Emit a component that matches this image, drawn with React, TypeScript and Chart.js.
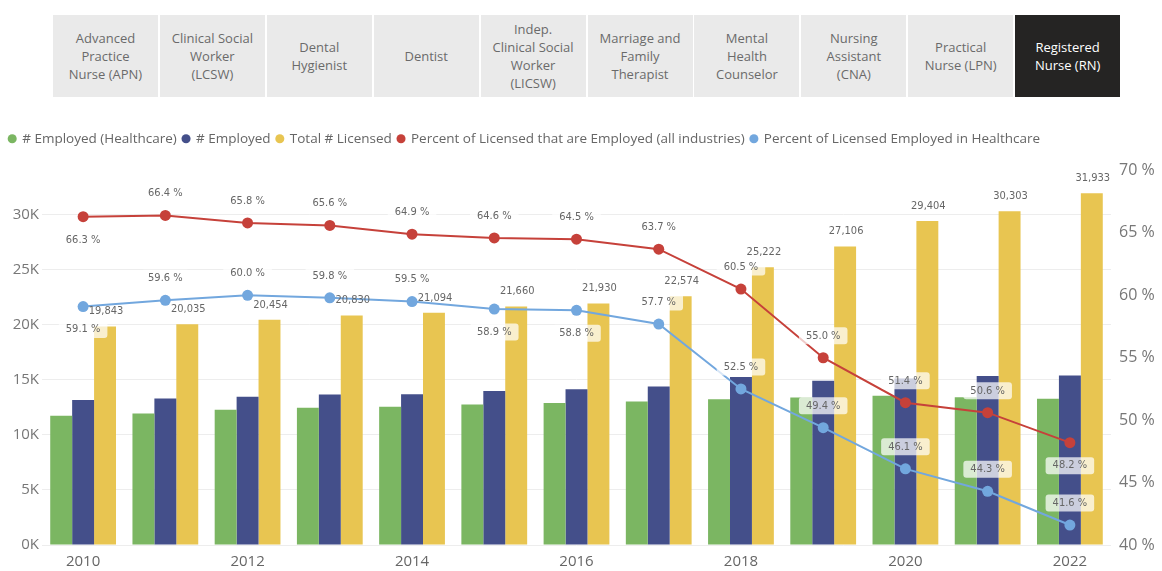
import { useEffect, useRef } from 'react';
import { Chart, registerables } from 'chart.js';

Chart.register(...registerables);

// ---------- data ----------
const years = ['2010', '2011', '2012', '2013', '2014', '2015', '2016', '2017', '2018', '2019', '2020', '2021', '2022'];
const employedHealthcare = [11727, 11941, 12272, 12456, 12551, 12758, 12895, 13025, 13242, 13390, 13555, 13424, 13284];
const employedAll = [13156, 13303, 13459, 13664, 13690, 13992, 14145, 14380, 15259, 14908, 15114, 15333, 15392];
const totalLicensed = [19843, 20035, 20454, 20830, 21094, 21660, 21930, 22574, 25222, 27106, 29404, 30303, 31933];
const pctLicensedEmployedAll = [66.3, 66.4, 65.8, 65.6, 64.9, 64.6, 64.5, 63.7, 60.5, 55.0, 51.4, 50.6, 48.2];
const pctLicensedEmployedHealthcare = [59.1, 59.6, 60.0, 59.8, 59.5, 58.9, 58.8, 57.7, 52.5, 49.4, 46.1, 44.3, 41.6];
const countTicks = [0, 5000, 10000, 15000, 20000, 25000, 30000];
const percentTicks = [40, 45, 50, 55, 60, 65, 70];
const professions = [
  'Advanced\nPractice\nNurse (APN)',
  'Clinical Social\nWorker\n(LCSW)',
  'Dental\nHygienist',
  'Dentist',
  'Indep.\nClinical Social\nWorker\n(LICSW)',
  'Marriage and\nFamily\nTherapist',
  'Mental\nHealth\nCounselor',
  'Nursing\nAssistant\n(CNA)',
  'Practical\nNurse (LPN)',
  'Registered\nNurse (RN)',
];
const selectedProfession = 9;
const seriesNames = [
  '# Employed (Healthcare)',
  '# Employed',
  'Total # Licensed',
  'Percent of Licensed that are Employed (all industries)',
  'Percent of Licensed Employed in Healthcare',
];
// label placement relative to point
const redLabelSide = ['below', 'above', 'above', 'above', 'above', 'above', 'above', 'above', 'above', 'above', 'above', 'above', 'below'];
const blueLabelSide = ['below', 'above', 'above', 'above', 'above', 'below', 'below', 'above', 'above', 'above', 'above', 'above', 'above'];

// ---------- styles ----------
const COLORS = {
  green: '#7bb662',
  navy: '#444f8a',
  yellow: '#e8c551',
  red: '#c6413a',
  blue: '#72a7de',
};
const UI_FONT = "'Open Sans', 'Noto Sans', sans-serif";
const LABEL_FONT = "'DejaVu Sans Condensed', 'Liberation Sans Narrow', 'DejaVu Sans', sans-serif";

function roundRect(ctx: CanvasRenderingContext2D, x: number, y: number, w: number, h: number, r: number) {
  ctx.beginPath();
  ctx.moveTo(x + r, y);
  ctx.lineTo(x + w - r, y);
  ctx.quadraticCurveTo(x + w, y, x + w, y + r);
  ctx.lineTo(x + w, y + h - r);
  ctx.quadraticCurveTo(x + w, y + h, x + w - r, y + h);
  ctx.lineTo(x + r, y + h);
  ctx.quadraticCurveTo(x, y + h, x, y + h - r);
  ctx.lineTo(x, y + r);
  ctx.quadraticCurveTo(x, y, x + r, y);
  ctx.closePath();
}

const valueLabelsPlugin = {
  id: 'valueLabels',
  afterDatasetsDraw(chart: any) {
    const ctx: CanvasRenderingContext2D = chart.ctx;
    ctx.save();
    ctx.font = `11px ${LABEL_FONT}`;
    ctx.textAlign = 'center';
    ctx.textBaseline = 'middle';

    const barMeta = chart.getDatasetMeta(2);
    barMeta.data.forEach((el: any, i: number) => {
      ctx.fillStyle = '#666666';
      ctx.fillText(totalLicensed[i].toLocaleString('en-US'), el.x + 1, el.y - 15);
    });

    const drawPct = (dsIndex: number, values: number[], sides: string[]) => {
      const meta = chart.getDatasetMeta(dsIndex);
      meta.data.forEach((el: any, i: number) => {
        const txt = values[i].toFixed(1) + ' %';
        const y = el.y + (sides[i] === 'above' ? -22 : 23);
        const w = ctx.measureText(txt).width + 14;
        const h = 17;
        ctx.fillStyle = 'rgba(255,255,255,0.72)';
        roundRect(ctx, el.x - w / 2, y - h / 2, w, h, 3);
        ctx.fill();
        ctx.fillStyle = '#666666';
        ctx.fillText(txt, el.x, y);
      });
    };
    drawPct(3, pctLicensedEmployedAll, redLabelSide);
    drawPct(4, pctLicensedEmployedHealthcare, blueLabelSide);
    ctx.restore();
  },
};

const legendSpacingPlugin = {
  id: 'legendSpacing',
  beforeInit(chart: any) {
    const legend = chart.legend;
    if (!legend) return;
    const origFit = legend.fit;
    legend.fit = function fit() {
      origFit.call(this);
      this.height += 15;
    };
  },
};

function ChartView() {
  const canvasRef = useRef<HTMLCanvasElement | null>(null);

  useEffect(() => {
    if (!canvasRef.current) return;
    const chart = new Chart(canvasRef.current, {
      type: 'bar',
      data: {
        labels: years,
        datasets: [
          {
            type: 'bar',
            label: seriesNames[0],
            data: employedHealthcare,
            backgroundColor: COLORS.green,
            borderWidth: 0,
            yAxisID: 'y',
            order: 1,
            categoryPercentage: 0.8,
            barPercentage: 1.0,
          },
          {
            type: 'bar',
            label: seriesNames[1],
            data: employedAll,
            backgroundColor: COLORS.navy,
            borderWidth: 0,
            yAxisID: 'y',
            order: 1,
            categoryPercentage: 0.8,
            barPercentage: 1.0,
          },
          {
            type: 'bar',
            label: seriesNames[2],
            data: totalLicensed,
            backgroundColor: COLORS.yellow,
            borderWidth: 0,
            yAxisID: 'y',
            order: 1,
            categoryPercentage: 0.8,
            barPercentage: 1.0,
          },
          {
            type: 'line',
            label: seriesNames[3],
            data: pctLicensedEmployedAll,
            borderColor: COLORS.red,
            backgroundColor: COLORS.red,
            pointBackgroundColor: COLORS.red,
            pointBorderWidth: 0,
            pointRadius: 5.5,
            borderWidth: 2,
            tension: 0,
            yAxisID: 'y1',
            order: 0,
          },
          {
            type: 'line',
            label: seriesNames[4],
            data: pctLicensedEmployedHealthcare,
            borderColor: COLORS.blue,
            backgroundColor: COLORS.blue,
            pointBackgroundColor: COLORS.blue,
            pointBorderWidth: 0,
            pointRadius: 5.5,
            borderWidth: 2,
            tension: 0,
            yAxisID: 'y1',
            order: 0,
          },
        ] as any,
      },
      options: {
        animation: false,
        responsive: true,
        maintainAspectRatio: false,
        layout: { padding: { left: 3, right: 0, top: 0, bottom: 0 } },
        plugins: {
          tooltip: { enabled: false },
          legend: {
            position: 'top',
            align: 'start',
            labels: {
              usePointStyle: true,
              boxWidth: 6.4,
              boxHeight: 6.4,
              padding: 6,
              color: '#666666',
              font: { family: UI_FONT, size: 13.5 },
              sort: (a: any, b: any) => a.datasetIndex - b.datasetIndex,
              generateLabels(chart: any) {
                const items = Chart.defaults.plugins.legend.labels.generateLabels(chart);
                return items.map((it: any) => ({ ...it, lineWidth: 0, pointStyle: 'circle' }));
              },
            },
          },
        },
        scales: {
          x: {
            grid: { display: false, drawTicks: false },
            border: { display: false },
            ticks: {
              autoSkip: false,
              maxRotation: 0,
              padding: 8,
              color: '#666666',
              font: { family: UI_FONT, size: 15 },
              callback: (_v: any, i: number) => (i % 2 === 0 ? years[i] : ''),
            },
            afterFit(scale: any) {
              scale.height = 26;
            },
          },
          y: {
            position: 'left',
            min: 0,
            max: 34000,
            grid: { color: '#ededed', drawTicks: false },
            border: { display: false },
            ticks: {
              padding: 3,
              color: '#777777',
              font: { family: UI_FONT, size: 15 },
              callback: (v: any) => `${Number(v) / 1000}K`,
            },
            afterBuildTicks(scale: any) {
              scale.ticks = countTicks.map((value) => ({ value }));
            },
            afterFit(scale: any) {
              scale.width = 39;
            },
          },
          y1: {
            position: 'right',
            min: 40,
            max: 70,
            grid: { display: false, drawTicks: false },
            border: { display: false },
            ticks: {
              padding: 8,
              color: '#777777',
              font: { family: UI_FONT, size: 16 },
              callback: (v: any) => `${v} %`,
            },
            afterBuildTicks(scale: any) {
              scale.ticks = percentTicks.map((value) => ({ value }));
            },
            afterFit(scale: any) {
              scale.width = 51;
            },
          },
        },
      } as any,
      plugins: [valueLabelsPlugin, legendSpacingPlugin],
    });
    return () => chart.destroy();
  }, []);

  return <canvas ref={canvasRef} />;
}

export default function App() {
  return (
    <div
      style={{
        position: 'fixed',
        left: 0,
        top: 0,
        width: 1162,
        height: 571,
        background: '#ffffff',
        overflow: 'hidden',
        fontFamily: UI_FONT,
      }}
    >
      {professions.map((p, i) => {
        const selected = i === selectedProfession;
        return (
          <div
            key={i}
            style={{
              position: 'absolute',
              left: 53 + i * 106.9,
              top: 15,
              width: 105,
              height: 82,
              background: selected ? '#252423' : '#eaeaea',
              color: selected ? '#ffffff' : '#6a6a6a',
              display: 'flex',
              alignItems: 'center',
              justifyContent: 'center',
              textAlign: 'center',
              whiteSpace: 'pre-line',
              fontSize: 13,
              lineHeight: '18px',
              boxSizing: 'border-box',
            }}
          >
            {p}
          </div>
        );
      })}
      <div style={{ position: 'absolute', left: 0, top: 126, width: 1162, height: 571 - 126 }}>
        <ChartView />
      </div>
    </div>
  );
}
